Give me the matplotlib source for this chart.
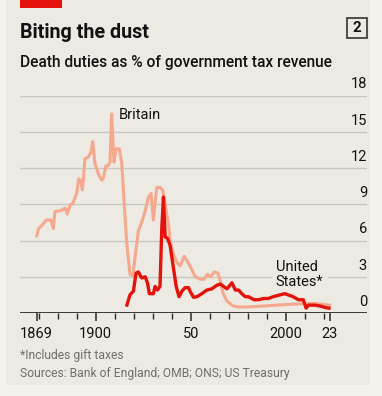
import matplotlib.pyplot as plt
import matplotlib.transforms as mtransforms
from matplotlib.patches import Rectangle

# Death duties as % of government tax revenue
britain_years = [1869, 1870, 1872, 1874, 1876.5, 1877.7, 1878.6, 1882, 1884, 1885,
                 1886.5, 1888, 1890, 1891, 1892, 1893, 1894.4, 1896, 1897.5, 1898.4,
                 1899.6, 1901.4, 1903.2, 1904, 1905.4, 1906.6, 1907.5, 1908.4, 1909.6,
                 1910.7, 1912.4, 1913.7, 1914.9, 1916.3, 1918, 1919.5, 1920.7, 1922.4,
                 1924.2, 1925.9, 1927.7, 1929.1, 1930.3, 1932.1, 1933.8, 1935.2, 1938.2,
                 1939.1, 1940.8, 1942.6, 1944.4, 1946.5, 1948.5, 1950.5, 1952.3, 1955,
                 1957, 1958.7, 1960.5, 1962.3, 1964.2, 1965.6, 1967, 1969, 1972, 1975,
                 1980, 1990, 2000, 2007, 2015, 2023]
britain_share = [6.4, 7.0, 7.3, 7.7, 7.7, 7.0, 8.4, 8.5, 8.7, 8.2,
                 8.9, 9.1, 9.9, 11.1, 11.0, 10.2, 12.8, 12.9, 13.3, 14.2,
                 12.4, 11.5, 11.0, 11.2, 12.2, 12.2, 12.5, 16.5, 12.5,
                 13.6, 13.6, 12.4, 9.3, 5.8, 3.2, 3.1, 4.6, 6.8,
                 7.5, 8.4, 9.6, 9.9, 7.7, 10.4, 10.4, 10.2, 7.4,
                 6.0, 4.9, 4.2, 3.9, 4.7, 4.2, 3.6, 3.0, 2.8,
                 2.8, 3.2, 3.0, 3.4, 3.3, 2.6, 1.6, 1.0, 0.6, 0.5,
                 0.5, 0.6, 0.7, 0.75, 0.8, 0.65]

us_years = [1916.4, 1918, 1919.8, 1921.2, 1922.4, 1924.2, 1926, 1927.2, 1928.2, 1930.3,
            1931.2, 1932.4, 1933.8, 1934.7, 1935.6, 1936.5, 1937.7, 1939.1, 1940.8,
            1942.3, 1943.8, 1945.3, 1947, 1948.8, 1949.6, 1951.4, 1953.2, 1955.8,
            1958.4, 1961, 1963.7, 1965.5, 1967.2, 1969, 1971.6, 1973.4, 1975.1,
            1976.8, 1978.6, 1980.3, 1983.2, 1985.8, 1988.1, 1990.7, 1993.3, 1996.8,
            1999.4, 2001.2, 2003.8, 2006.5, 2009.1, 2010.6, 2011.8, 2015.3, 2018.8,
            2020.6, 2022.6]
us_share = [0.66, 1.5, 1.8, 3.3, 3.4, 2.9, 3.0, 2.5, 1.6, 1.6,
            2.2, 1.9, 2.2, 6.9, 9.6, 6.3, 6.2, 5.6, 3.8,
            2.2, 1.35, 1.8, 2.1, 2.1, 1.8, 1.3, 1.35, 1.6,
            1.9, 2.0, 2.3, 2.4, 2.2, 2.0, 2.5, 1.9, 1.9,
            1.6, 1.35, 1.35, 1.1, 1.1, 1.2, 1.2, 1.35, 1.5,
            1.6, 1.5, 1.35, 1.1, 1.1, 0.4, 0.65, 0.65, 0.55,
            0.45, 0.4]

y_ticks = [0, 3, 6, 9, 12, 15, 18]
x_ticks_minor = list(range(1870, 2030, 10)) + [2023]
x_ticks_major = [1869, 1900, 1950, 2000, 2023]
x_tick_labels = ["1869", "1900", "50", "2000", "23"]

BG = "#ECEAE2"
RED = "#E3120B"
PINK = "#F5A88D"
GRID = "#C9C7BF"
TEXT = "#121212"
GREY = "#6E6E6E"

plt.rcParams["font.family"] = ["Roboto", "DejaVu Sans"]

W, H = 382, 396
fig = plt.figure(figsize=(W / 100, H / 100), dpi=100)
fig.patch.set_facecolor("#F3F2ED")
fig.patches.append(Rectangle((6 / W, 1 - 385 / H), 364 / W, 385 / H,
                             transform=fig.transFigure, facecolor=BG,
                             edgecolor="none", zorder=-10))
# red tag top-left
fig.patches.append(Rectangle((20 / W, 1 - 8 / H), 42 / W, 8 / H,
                             transform=fig.transFigure, facecolor=RED,
                             edgecolor="none", zorder=-5))

ax = fig.add_axes([20 / W, 1 - 313 / H, 347 / W, (313 - 95.7) / H])
ax.set_zorder(2)
ax.set_facecolor("none")
ax.set_xlim(1860.2, 2042.6)
ax.set_ylim(0, 18)

for v in y_ticks[1:]:
    ax.axhline(v, color=GRID, linewidth=1.0, zorder=1)
ax.axhline(0, color="#2A2A2A", linewidth=1.3, zorder=5)

ax.plot(britain_years, britain_share, color=PINK, linewidth=2.2,
        solid_joinstyle="round", zorder=3, clip_on=False)
ax.plot(us_years, us_share, color=RED, linewidth=2.4,
        solid_joinstyle="round", zorder=4, clip_on=False)

for s in ax.spines.values():
    s.set_visible(False)
ax.set_yticks([])
ax.set_xticks(x_ticks_major)
ax.set_xticklabels(x_tick_labels, fontsize=10.5, color=TEXT)
ax.set_xticks(x_ticks_minor, minor=True)
ax.tick_params(axis="x", which="major", length=6, width=1.1, color="#2A2A2A", pad=4)
ax.tick_params(axis="x", which="minor", length=4, width=1.0, color="#2A2A2A")
ax.tick_params(axis="x", which="both", direction="out")

trans = mtransforms.blended_transform_factory(ax.transAxes, ax.transData)
for v in y_ticks:
    ax.text(1.0, v + 0.35, str(v), transform=trans, ha="right", va="bottom",
            fontsize=10.5, color=TEXT)

ax.text(1912.3, 16.4, "Britain", fontsize=10.5, color=TEXT, va="center", ha="left")
ax.text(1994.7, 3.2, "United\nStates*", fontsize=10.5, color=TEXT, va="center",
        ha="left", linespacing=1.1,
        bbox=dict(facecolor=BG, edgecolor="none", pad=3), zorder=2)

fig.text(20 / W, 1 - 32 / H, "Biting the dust", fontsize=14.2, fontweight="bold",
         color=TEXT, va="center", ha="left")
fig.text(20 / W, 1 - 63 / H, "Death duties as % of government tax revenue",
         fontsize=11.2, fontweight="medium", color=TEXT, va="center", ha="left")

# chart number box
fig.patches.append(Rectangle((347 / W, 1 - 38 / H), 20 / W, 20 / H,
                             transform=fig.transFigure, facecolor="none",
                             edgecolor="#333333", linewidth=1.2, zorder=2))
fig.text(357 / W, 1 - 28 / H, "2", fontsize=11, fontweight="bold",
         color=TEXT, va="center", ha="center")

fig.text(20 / W, 1 - 356 / H, "*Includes gift taxes", fontsize=8.7,
         color=GREY, va="center", ha="left")
fig.text(20 / W, 1 - 373.5 / H, "Sources: Bank of England; OMB; ONS; US Treasury",
         fontsize=8.7, color=GREY, va="center", ha="left")

fig.savefig("out.png", dpi=100, facecolor=fig.get_facecolor())
